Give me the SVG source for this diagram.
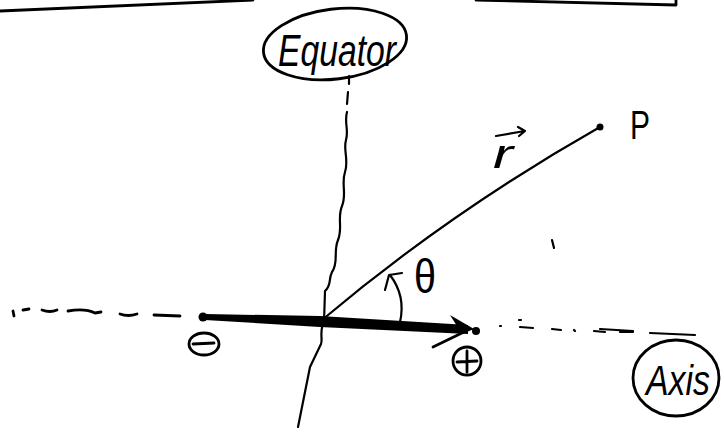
<svg xmlns="http://www.w3.org/2000/svg" width="724" height="432" viewBox="0 0 724 432">
<style>
.ln{fill:none;stroke:#000;stroke-width:2.2;stroke-linecap:round;stroke-linejoin:round}
.bd{fill:none;stroke:#000;stroke-width:2.8;stroke-linecap:round;stroke-linejoin:round}
.tx{font-family:"Liberation Sans",Arial,sans-serif;font-style:italic;fill:#000}
.up{font-style:normal}
</style>
<rect width="724" height="432" fill="#fff"/>
<g id="frame">
<path class="bd" d="M0,11 L253,0"/>
<path class="bd" d="M476,0 L676,5 L676,0"/>
</g>
<g id="equator">
<ellipse class="bd" cx="335" cy="44" rx="72" ry="35" transform="rotate(-7 335 44)"/>
<text class="tx" x="278" y="66" font-size="44" textLength="118" lengthAdjust="spacingAndGlyphs">Equator</text>
</g>
<g id="axis-label">
<ellipse class="bd" cx="676" cy="378" rx="43" ry="38"/>
<text class="tx" x="646" y="395" font-size="42" textLength="64" lengthAdjust="spacingAndGlyphs">Axis</text>
</g>
<g id="point-P">
<circle cx="600" cy="127" r="3.5" fill="#000"/>
<text class="tx up" x="630" y="139" font-size="40" textLength="20" lengthAdjust="spacingAndGlyphs">P</text>
</g>
<g id="connectors">
<path class="ln" d="M349,76 L349,84 M348,92 L347,104 M347,112 C344,122 349,130 346,140 C343,150 349,160 345,172 C341,184 347,194 342,206 C337,218 343,228 338,240 C333,252 339,262 332,272 C328,280 332,285 325,291 L324,322 C319,330 323,340 321,344 L310,367 L298,427"/>
<path class="bd" d="M13,311 L14,316 M23,310 L29,309 M42,310 Q50,313 57,310 M68,311 Q85,308 95,313 L101,312 M120,314 Q128,317 137,314 M154,315 L180,316"/>
<path class="ln" d="M500,326 L501,326 M519,320 L521,320 M520,327 L533,328 M552,329 L561,330 M574,330 L575,331 M594,331 L605,332 M620,332 L633,332 M650,333 L695,335 M600,329 L633,331"/>
<circle cx="203" cy="317" r="4.5" fill="#000"/>
<path d="M205,314 L320,316 L468,325 L468,334 L320,327 L205,320 Z" fill="#000"/>
<path d="M450,315 L474,329 L462,334 Z" fill="#000"/>
<path class="bd" stroke-width="4" d="M433,347 L466,331"/>
<circle cx="476" cy="331" r="4" fill="#000"/>
<path class="ln" d="M322,320 Q450,212 600,127"/>
<path class="ln" d="M400,322 Q406,296 390,275 M385,290 L389,275 L402,273"/>
<path class="ln" stroke-width="1.2" d="M552,240 L554,248"/>
</g>
<g id="labels">
<text class="tx" x="493" y="168" font-size="40" textLength="20" lengthAdjust="spacingAndGlyphs">r</text>
<path class="ln" d="M496,136 L525,131 M518,127 L525,131 L519,136"/>
<text class="tx up" x="414" y="293" font-size="48" textLength="22" lengthAdjust="spacingAndGlyphs">θ</text>
</g>
<g id="charges">
<ellipse class="bd" cx="204" cy="344" rx="15" ry="11"/>
<path class="bd" d="M193,344 L214,343"/>
<circle class="bd" cx="467" cy="361" r="14"/>
<path class="bd" d="M457,362 L477,361 M467,351 L467,372"/>
</g>
</svg>
